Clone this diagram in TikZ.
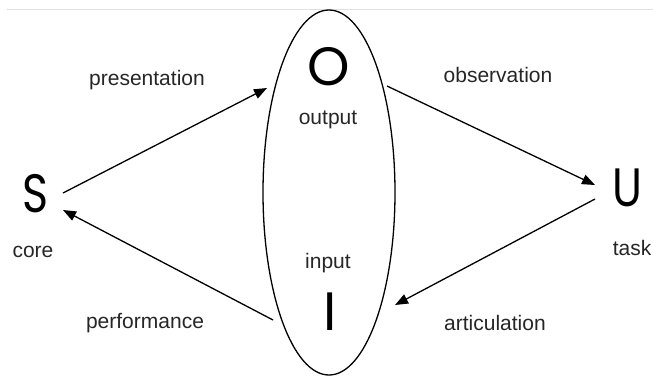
\documentclass[tikz,border=0pt]{standalone}
\usepackage{fontspec}
\setmainfont{Liberation Sans}
\newfontfamily\geofont{Poppins}
\usetikzlibrary{arrows.meta,shapes.geometric}
\begin{document}
\begin{tikzpicture}[x=1pt,y=-1pt,
  lbl/.style={font=\fontsize{21}{23}\selectfont, inner sep=0pt, text=black!85},
  letter/.style={font=\geofont\fontsize{54}{56}\selectfont, inner sep=0pt},
  narrow/.style={xscale=0.82},
  arr/.style={line width=1.3pt, -{Triangle[length=13pt,width=10pt]}},
  sysell/.style={draw, ellipse, line width=1.3pt, minimum width=132pt, minimum height=365pt, inner sep=0pt}
]
\useasboundingbox (0,0) rectangle (653,376);
\draw[black!12, line width=0.8pt] (7,9) -- (653,9);
\node[sysell] (sys) at (329,192.5) {};
% letters
\node[letter, narrow] (S) at (35,194) {S};
\node[letter] (O) at (329,67) {O};
\node[letter, narrow] (U) at (627,188) {U};
\node[letter] (I) at (330,312) {I};
% labels
\node[lbl] (core) at (33,252) {core};
\node[lbl] (task) at (632,248) {task};
\node[lbl] (output) at (328,120) {output};
\node[lbl] (input) at (328,263) {input};
\node[lbl] (presentation) at (147,80) {presentation};
\node[lbl] (observation) at (498,75) {observation};
\node[lbl] (performance) at (145,323) {performance};
\node[lbl] (articulation) at (495,323) {articulation};
% connector ends
\coordinate (pS) at (63,193);
\coordinate (pO) at (267,88);
\coordinate (oO) at (387,86);
\coordinate (oU) at (595,185);
\coordinate (aU) at (595,199);
\coordinate (aI) at (395,305);
\coordinate (fI) at (273,320);
\coordinate (fS) at (63,210);
\draw[arr] (pS) -- (pO);
\draw[arr] (oO) -- (oU);
\draw[arr] (aU) -- (aI);
\draw[arr] (fI) -- (fS);
\end{tikzpicture}
\end{document}
